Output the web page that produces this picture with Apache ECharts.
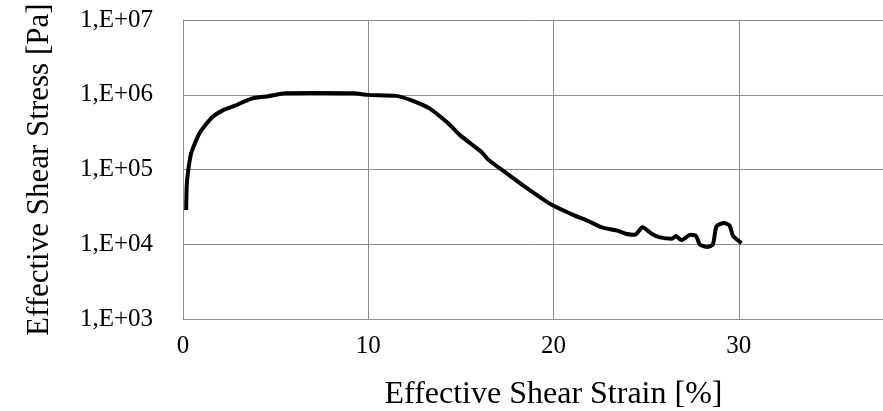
<!DOCTYPE html>
<html>
<head>
<meta charset="utf-8">
<script src="https://cdn.jsdelivr.net/npm/echarts@6/dist/echarts.min.js"></script>
<style>
html,body{margin:0;padding:0;background:#fff;overflow:hidden;}
#chart{width:883px;height:411px;}
</style>
</head>
<body>
<div id="chart"></div>
<script>
// Effective shear strain [%]
const strain = [0.17, 0.2, 0.26, 0.44, 0.9, 1.6, 2.2, 2.7, 3.7, 4.6, 5.5, 7.0, 9.2, 10.0, 11.5, 12.3, 13.3, 14.3, 14.95, 16.1, 16.5, 17.6, 18.6, 19.9, 20.9, 21.9, 22.6, 23.4, 23.9, 24.4, 24.8, 25.3, 25.7, 26.4, 26.6, 26.9, 27.4, 27.7, 27.9, 28.3, 28.6, 28.8, 29.2, 29.5, 29.7, 30.15];
// Effective shear stress [Pa]
const stress = [29000, 60000, 89000, 166000, 310000, 510000, 630000, 700000, 890000, 960000, 1050000, 1060000, 1050000, 1000000, 970000, 850000, 660000, 420000, 290000, 174000, 135000, 85000, 56000, 34000, 26000, 20500, 17000, 15500, 14000, 13500, 17000, 14000, 12600, 12000, 13000, 11500, 13500, 13000, 10000, 9300, 10000, 17500, 19500, 18000, 13000, 10500];
const xTicks = [0, 10, 20, 30, 40];
const yTickExponents = [3, 4, 5, 6, 7];
const xTitle = 'Effective Shear Strain [%]';
const yTitle = 'Effective Shear Stress [Pa]';

const data = strain.map((x, i) => [x, stress[i]]);
const font = '"Liberation Serif", "Times New Roman", serif';

const chart = echarts.init(document.getElementById('chart'), null, {renderer: 'canvas'});
chart.setOption({
  animation: false,
  backgroundColor: '#fff',
  grid: {left: 183, top: 20, right: -41, bottom: 91.5, containLabel: false, outerBoundsMode: 'none'},
  xAxis: {
    type: 'value',
    min: xTicks[0],
    max: xTicks[xTicks.length - 1],
    interval: 10,
    axisLine: {show: true, lineStyle: {color: '#8c8c8c', width: 1}},
    axisTick: {show: false},
    splitLine: {show: true, lineStyle: {color: '#8c8c8c', width: 1}},
    axisLabel: {color: '#000', fontFamily: font, fontSize: 25, margin: 14},
    name: xTitle,
    nameLocation: 'middle',
    nameGap: 59,
    nameTextStyle: {color: '#000', fontFamily: font, fontSize: 32}
  },
  yAxis: {
    type: 'log',
    logBase: 10,
    min: Math.pow(10, yTickExponents[0]),
    max: Math.pow(10, yTickExponents[yTickExponents.length - 1]),
    axisLine: {show: true, lineStyle: {color: '#8c8c8c', width: 1}},
    axisTick: {show: false},
    splitLine: {show: true, lineStyle: {color: '#8c8c8c', width: 1}},
    axisLabel: {
      color: '#000', fontFamily: font, fontSize: 25, margin: 30,
      formatter: function (v) {
        const e = Math.round(Math.log10(v));
        return '1,E+' + (e < 10 ? '0' + e : e);
      }
    },
    name: yTitle,
    nameLocation: 'middle',
    nameGap: 128,
    nameTextStyle: {color: '#000', fontFamily: font, fontSize: 31}
  },
  series: [{
    type: 'line',
    data: data,
    showSymbol: false,
    smooth: 0.2,
    lineStyle: {color: '#000', width: 4},
    clip: false
  }]
});
</script>
</body>
</html>
